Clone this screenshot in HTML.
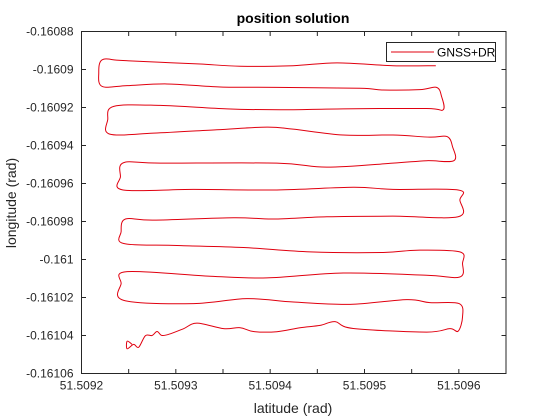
<!DOCTYPE html>
<html><head><meta charset="utf-8"><style>
body{margin:0;background:#fff;}
svg{display:block;font-family:"Liberation Sans",Arial,sans-serif;}
</style></head><body>
<svg id="chart" width="560" height="420" viewBox="0 0 560 420">
<rect x="0" y="0" width="560" height="420" fill="#fff"/>
<text x="293" y="23" text-anchor="middle" font-size="14" font-weight="bold" fill="#000">position solution</text>
<g id="grid-ticks"></g>
<g id="series"></g>
<rect x="81.5" y="31.5" width="424.5" height="342" fill="none" stroke="#262626" stroke-width="1"/>
<text x="293" y="413" text-anchor="middle" font-size="14" fill="#262626">latitude (rad)</text>
<text transform="translate(16,203) rotate(-90)" text-anchor="middle" font-size="14" fill="#262626">longitude (rad)</text>
<g>
<rect x="386.5" y="42.5" width="109" height="19" fill="#fff" stroke="#262626" stroke-width="1"/>
<line x1="391" y1="52" x2="434" y2="52" stroke="#e0000f" stroke-width="1"/>
<text x="437" y="56.5" font-size="12" fill="#000">GNSS+DR</text>
</g>
</svg>
<script>
const xTicks = [51.5092, 51.50925, 51.5093, 51.50935, 51.5094, 51.50945, 51.5095, 51.50955, 51.5096];
const xTickLabels = ["51.5092", "", "51.5093", "", "51.5094", "", "51.5095", "", "51.5096"];
const yTicks = [-0.16088, -0.1609, -0.16092, -0.16094, -0.16096, -0.16098, -0.161, -0.16102, -0.16104, -0.16106];
const yTickLabels = ["-0.16088", "-0.1609", "-0.16092", "-0.16094", "-0.16096", "-0.16098", "-0.161", "-0.16102", "-0.16104", "-0.16106"];
const latitude = [51.5095756,51.5095301,51.5094709,51.5094243,51.5093682,51.5093259,51.5092836,51.5092413,51.5092219,51.5092183,51.5092219,51.5092484,51.5092907,51.5093471,51.5094071,51.5094952,51.5095196,51.5095587,51.5095764,51.5095817,51.5095834,51.5095658,51.5094772,51.5094106,51.5093542,51.5092836,51.5092342,51.5092278,51.5092299,51.5092765,51.5093436,51.5093965,51.5094243,51.5094772,51.5095301,51.5095693,51.5095876,51.5095933,51.5095947,51.5095658,51.5095301,51.50946,51.5094071,51.5092836,51.5092448,51.5092413,51.5092441,51.5093188,51.5094071,51.5094881,51.5095301,51.5095993,51.5096011,51.5095993,51.5095301,51.50946,51.5094035,51.5093612,51.5092765,51.5092466,51.509242,51.5092448,51.5093013,51.5093717,51.5094423,51.5095199,51.5095552,51.5096011,51.5096039,51.5096011,51.5095658,51.5094775,51.5093965,51.5093365,51.5092484,51.509242,51.5092448,51.5093188,51.5093753,51.5094247,51.5094847,51.5095447,51.5095693,51.5096003,51.5096039,51.5095993,51.5095905,51.5095658,51.5094881,51.5094688,51.5094529,51.5094317,51.5094071,51.5093823,51.5093682,51.5093506,51.5093224,51.5093083,51.5092942,51.5092854,51.5092801,51.5092748,51.5092677,51.5092606,51.5092553,51.5092484,51.5092484,51.5092537];
const longitude = [-0.160898,-0.160898,-0.1608965,-0.160898,-0.1608983,-0.1608971,-0.1608962,-0.1608952,-0.1608949,-0.1609018,-0.1609089,-0.1609085,-0.1609076,-0.1609092,-0.1609094,-0.1609099,-0.1609108,-0.1609106,-0.1609094,-0.1609142,-0.1609212,-0.1609205,-0.1609207,-0.1609212,-0.1609207,-0.1609189,-0.1609194,-0.1609265,-0.160934,-0.1609335,-0.1609317,-0.1609303,-0.1609314,-0.1609345,-0.1609345,-0.1609356,-0.1609353,-0.1609406,-0.160948,-0.160948,-0.1609493,-0.1609514,-0.1609493,-0.1609493,-0.160949,-0.1609564,-0.1609634,-0.1609631,-0.1609634,-0.160962,-0.1609631,-0.1609634,-0.1609687,-0.1609775,-0.1609772,-0.1609775,-0.1609787,-0.160978,-0.1609793,-0.1609787,-0.1609854,-0.1609916,-0.1609926,-0.1609937,-0.160996,-0.1609963,-0.1609951,-0.160996,-0.1610021,-0.1610092,-0.1610083,-0.1610071,-0.1610097,-0.1610088,-0.1610064,-0.1610127,-0.1610215,-0.1610232,-0.1610206,-0.1610224,-0.1610236,-0.1610211,-0.1610227,-0.1610232,-0.1610303,-0.1610377,-0.1610364,-0.1610382,-0.1610363,-0.1610327,-0.1610347,-0.1610359,-0.161038,-0.1610379,-0.1610359,-0.1610364,-0.1610335,-0.1610364,-0.1610391,-0.16104,-0.1610379,-0.16104,-0.1610401,-0.1610462,-0.1610447,-0.161047,-0.161043,-0.1610447];

const X0 = 81.5, X1 = 506, Y0 = 31.5, Y1 = 373.5;
const xMin = 51.5092, xMax = 51.50965, yMin = -0.16106, yMax = -0.16088;
function sx(v){ return X0 + (v - xMin) / (xMax - xMin) * (X1 - X0); }
function sy(v){ return Y0 + (yMax - v) / (yMax - yMin) * (Y1 - Y0); }
const NS = "http://www.w3.org/2000/svg";
const tg = document.getElementById('grid-ticks');
xTicks.forEach((v, i) => {
  const x = sx(v);
  const t1 = document.createElementNS(NS, 'line');
  t1.setAttribute('x1', x); t1.setAttribute('x2', x); t1.setAttribute('y1', Y1); t1.setAttribute('y2', Y1 - 4.5);
  t1.setAttribute('stroke', '#262626');
  
  
  tg.appendChild(t1);
  const t2 = document.createElementNS(NS, 'line');
  t2.setAttribute('x1', x); t2.setAttribute('x2', x); t2.setAttribute('y1', Y0); t2.setAttribute('y2', Y0 + 4.5);
  t2.setAttribute('stroke', '#262626');
  
  
  tg.appendChild(t2);
  if (xTickLabels[i]) {
    const tx = document.createElementNS(NS, 'text');
    tx.setAttribute('x', x); tx.setAttribute('y', Y1 + 16);
    tx.setAttribute('text-anchor', 'middle'); tx.setAttribute('font-size', '12'); tx.setAttribute('fill', '#262626');
    
    
    tx.textContent = xTickLabels[i];
    tg.appendChild(tx);
  }
});
yTicks.forEach((v, i) => {
  const y = sy(v);
  const t1 = document.createElementNS(NS, 'line');
  t1.setAttribute('x1', X0); t1.setAttribute('x2', X0 + 4.5); t1.setAttribute('y1', y); t1.setAttribute('y2', y);
  t1.setAttribute('stroke', '#262626');
  
  
  tg.appendChild(t1);
  const t2 = document.createElementNS(NS, 'line');
  t2.setAttribute('x1', X1); t2.setAttribute('x2', X1 - 4.5); t2.setAttribute('y1', y); t2.setAttribute('y2', y);
  t2.setAttribute('stroke', '#262626');
  
  
  tg.appendChild(t2);
  const tx = document.createElementNS(NS, 'text');
  tx.setAttribute('x', X0 - 8); tx.setAttribute('y', y + 4);
  tx.setAttribute('text-anchor', 'end'); tx.setAttribute('font-size', '12'); tx.setAttribute('fill', '#262626');
  
  
  tx.textContent = yTickLabels[i];
  tg.appendChild(tx);
});
// smooth trajectory with Catmull-Rom -> cubic Bezier
const P = latitude.map((la, i) => [sx(la), sy(longitude[i])]);
let d = 'M' + P[0][0].toFixed(2) + ',' + P[0][1].toFixed(2);
const tension = 6;
for (let i = 0; i < P.length - 1; i++) {
  const p0 = P[Math.max(i - 1, 0)], p1 = P[i], p2 = P[i + 1], p3 = P[Math.min(i + 2, P.length - 1)];
  const c1x = p1[0] + (p2[0] - p0[0]) / tension, c1y = p1[1] + (p2[1] - p0[1]) / tension;
  const c2x = p2[0] - (p3[0] - p1[0]) / tension, c2y = p2[1] - (p3[1] - p1[1]) / tension;
  d += ' C' + c1x.toFixed(2) + ',' + c1y.toFixed(2) + ' ' + c2x.toFixed(2) + ',' + c2y.toFixed(2) + ' ' + p2[0].toFixed(2) + ',' + p2[1].toFixed(2);
}
const pl = document.createElementNS(NS, 'path');
pl.setAttribute('d', d);
pl.setAttribute('fill', 'none');
pl.setAttribute('stroke', '#e0000f');
pl.setAttribute('stroke-width', '1');
pl.setAttribute('stroke-linejoin', 'round');


document.getElementById('series').appendChild(pl);
</script>
</body></html>
